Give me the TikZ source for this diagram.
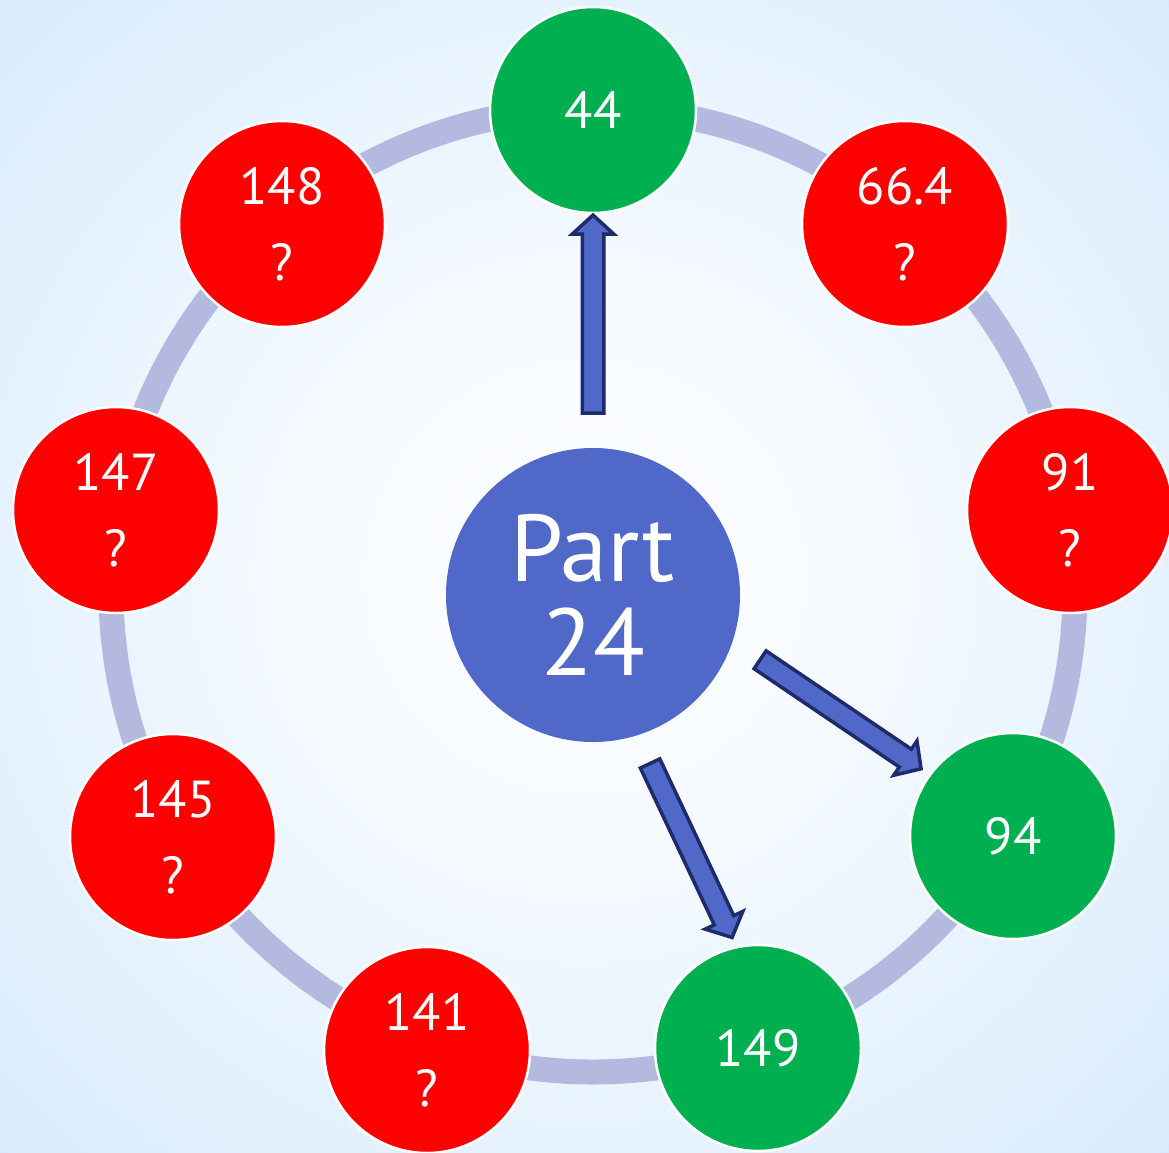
\documentclass[tikz,border=0pt]{standalone}
\usepackage{fontspec}
\setmainfont{PT Sans}
\usetikzlibrary{shapes.arrows,calc}
\definecolor{ringc}{HTML}{B4B9E0}
\definecolor{greenc}{HTML}{00B050}
\definecolor{redc}{HTML}{FF0000}
\definecolor{bluec}{HTML}{5068C8}
\definecolor{arrowedge}{HTML}{1F2A6B}
\definecolor{bgedge}{HTML}{C8E2F9}
\definecolor{bgmid}{HTML}{DFEFFD}
\pgfdeclareradialshading{bgshade}{\pgfpoint{0bp}{0bp}}{color(0bp)=(white); color(12bp)=(white!70!bgmid); color(30bp)=(bgmid); color(48bp)=(bgedge); color(100bp)=(bgedge)}
\tikzset{
  ball/.style={circle, draw=white, line width=2.5pt, minimum size=206pt, inner sep=0pt, text=white, font=\fontsize{52}{76}\selectfont, align=center},
  gball/.style={ball, fill=greenc},
  rball/.style={ball, fill=redc},
  hub/.style={circle, fill=bluec, minimum size=294pt, inner sep=0pt, text=white, font=\fontsize{95}{94}\selectfont, align=center},
  blockarrow/.style={single arrow, fill=bluec, draw=arrowedge, line width=3.5pt, inner xsep=0pt, inner ysep=9pt, single arrow head extend=10pt, single arrow tip angle=95, outer sep=0pt},
  ringline/.style={draw=ringc, line width=25pt}
}
\newcommand\blockarr[3]{\path let \p1=($(#2)-(#1)$), \n1={atan2(\y1,\x1)}, \n2={veclen(\x1,\y1)} in node[blockarrow, rotate=\n1, minimum height=\n2] (#3) at ($(#1)!0.5!(#2)$) {};}
\begin{document}
\begin{tikzpicture}[x=1pt,y=-1pt]
\useasboundingbox (0,0) rectangle (1169,1152);
\shade[shading=bgshade] (0,0) rectangle (1169,1152);
\draw[ringline] (593,590) circle[radius=482];
\node[gball] (n44) at (593,110) {44};
\node[rball] (n664) at (905,224) {66.4\\?};
\node[rball] (n91) at (1070,510) {91\\?};
\node[gball] (n94) at (1013,836) {94};
\node[gball] (n149) at (758,1048) {149};
\node[rball] (n141) at (427,1050) {141\\?};
\node[rball] (n145) at (173,837) {145\\?};
\node[rball] (n147) at (116,510) {147\\?};
\node[rball] (n148) at (282,224) {148\\?};
\node[hub] (hub) at (593,595) {Part\\24};
\coordinate (a1s) at (593,418);
\coordinate (a1e) at (593,220);
\coordinate (a2s) at (756,657);
\coordinate (a2e) at (917,766);
\coordinate (a3s) at (648,759);
\coordinate (a3e) at (730,933);
\blockarr{a1s}{a1e}{arr1}
\blockarr{a2s}{a2e}{arr2}
\blockarr{a3s}{a3e}{arr3}
\end{tikzpicture}
\end{document}
